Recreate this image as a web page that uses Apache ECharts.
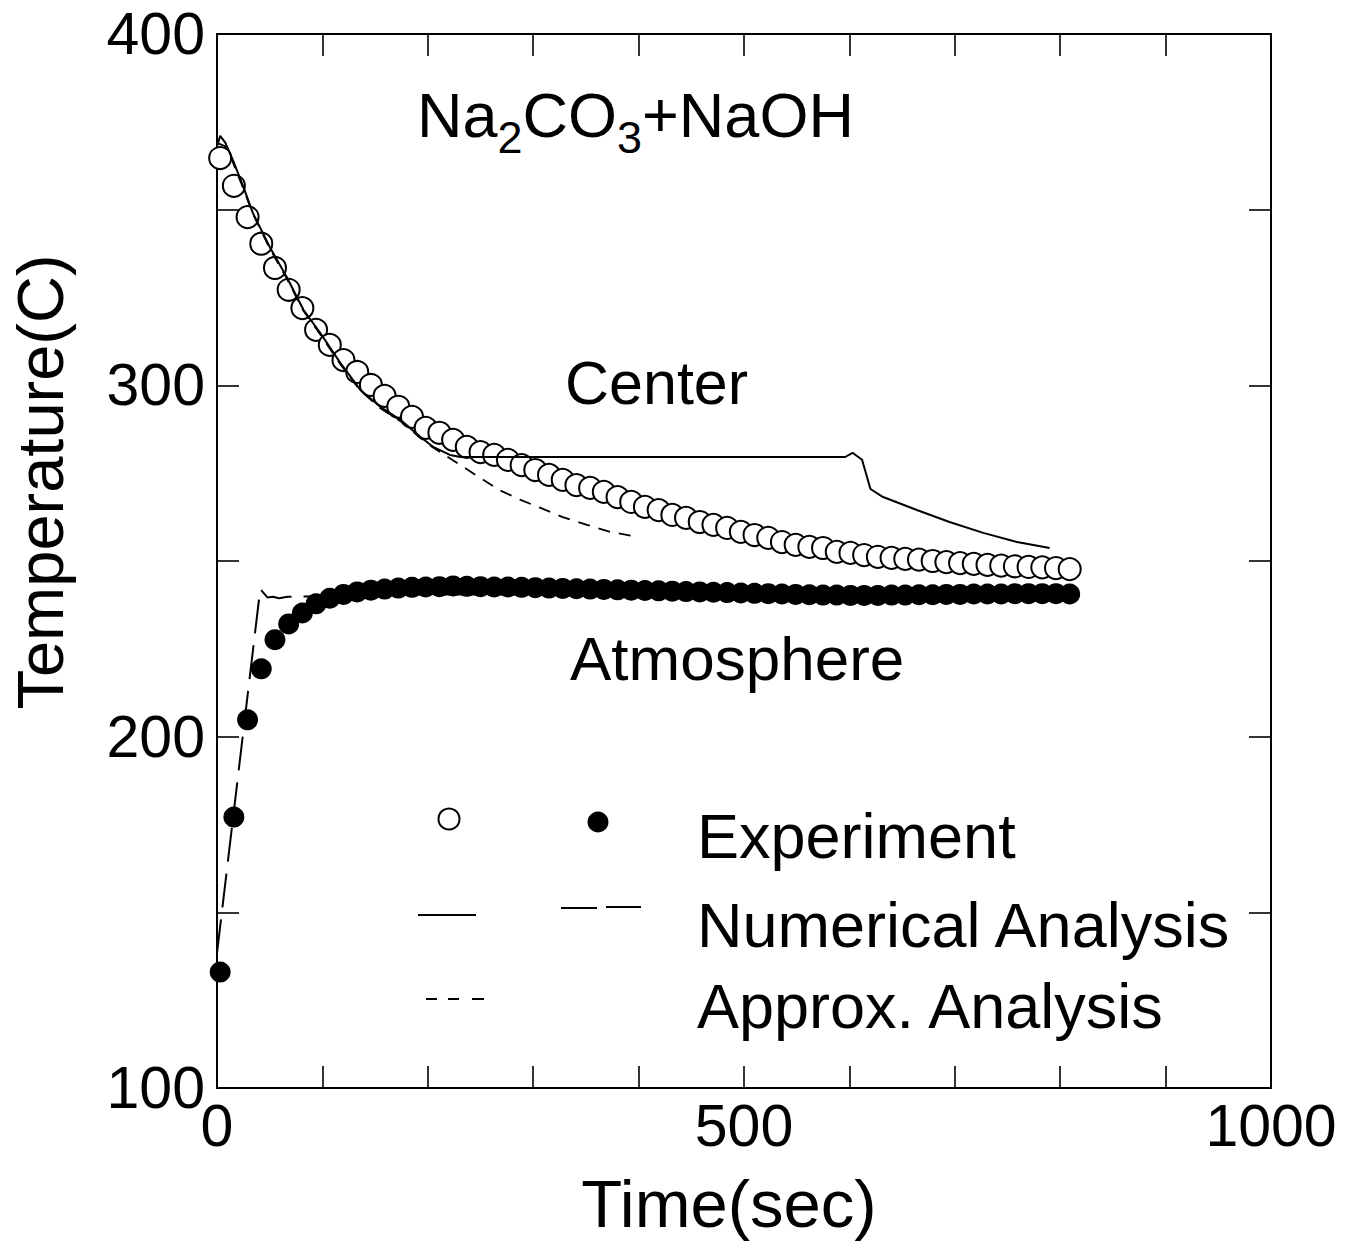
<!DOCTYPE html>
<html>
<head>
<meta charset="utf-8">
<title>Na2CO3+NaOH cooling curves</title>
<script src="https://cdn.jsdelivr.net/npm/echarts@6/dist/echarts.min.js"></script>
<style>
  html, body { margin: 0; padding: 0; background: #fff; }
  #chart { width: 1363px; height: 1244px; }
</style>
</head>
<body>
<div id="chart"></div>
<script>
// Sampling times of the measured points (s)
const expTime = [3, 16, 29, 42, 55, 68, 81, 94, 107, 120, 133, 146, 159, 172, 185, 198, 211, 224, 237, 250,
  263, 276, 289, 302, 315, 328, 341, 354, 367, 380, 393, 406, 419, 432, 445, 458, 471, 484, 497, 510,
  523, 536, 549, 562, 575, 588, 601, 614, 627, 640, 653, 666, 679, 692, 705, 718, 731, 744, 757, 770,
  783, 796, 809];

// Measured centre temperature (C)
const centerExp = [364.7, 356.8, 347.9, 340.3, 333.4, 327.2, 322.0, 315.8, 311.5, 307.2, 303.8, 300.1, 297.0,
  293.9, 291.0, 287.9, 286.5, 284.5, 282.5, 281.0, 280.2, 278.8, 277.3, 275.9, 274.5, 273.1, 271.6, 270.8,
  269.7, 268.2, 266.8, 265.4, 264.5, 263.1, 262.3, 261.1, 260.3, 259.4, 258.3, 257.4, 256.6, 255.4, 254.6,
  254.0, 253.7, 252.6, 252.3, 251.7, 251.2, 250.9, 250.6, 250.4, 250.0, 249.7, 249.4, 249.2, 248.9, 248.7,
  248.5, 248.3, 248.2, 248.0, 247.7];

// Measured atmosphere temperature (C)
const atmosExp = [133.0, 177.1, 204.8, 219.3, 227.6, 232.1, 235.2, 237.8, 239.4, 240.5, 241.2, 241.7, 242.0,
  242.3, 242.5, 242.6, 242.7, 242.9, 242.8, 242.7, 242.6, 242.6, 242.5, 242.4, 242.3, 242.2, 242.1, 242.0,
  241.9, 241.8, 241.7, 241.6, 241.5, 241.4, 241.3, 241.2, 241.1, 241.0, 240.9, 240.8, 240.7, 240.6, 240.5,
  240.4, 240.3, 240.3, 240.2, 240.2, 240.2, 240.3, 240.3, 240.4, 240.4, 240.5, 240.5, 240.6, 240.6, 240.6,
  240.7, 240.7, 240.7, 240.7, 240.6];

// Numerical analysis, centre (solid)
const numCenterTime = [0, 3, 8, 15, 25, 34, 50, 66, 82, 98, 117, 136, 155, 174, 193, 205, 221, 231, 400, 596,
  603, 612, 620, 632, 664, 695, 727, 759, 790];
const numCenterTemp = [368.0, 371.0, 369.0, 364.2, 356.5, 349.1, 339.4, 330.9, 321.5, 314.9, 306.4, 298.7,
  293.9, 290.2, 285.3, 282.5, 280.2, 279.6, 279.6, 279.6, 280.8, 278.8, 270.5, 268.2, 264.5, 261.1, 258.0,
  255.4, 253.7];

// Numerical analysis, atmosphere (long dash)
const numAtmosTime = [0, 41, 48, 53, 59, 67, 200, 400, 600, 790];
const numAtmosTemp = [138.4, 242.0, 239.6, 239.8, 239.4, 239.8, 240.5, 240.5, 240.3, 240.6];

// Approximate analysis, centre (short dash)
const approxCenterTime = [0, 8, 15, 25, 34, 50, 66, 82, 98, 117, 136, 155, 174, 193, 205, 231, 250, 268, 288,
  307, 328, 351, 373, 395];
const approxCenterTemp = [369.0, 368.0, 363.5, 356.0, 348.8, 339.0, 330.5, 321.2, 314.5, 306.0, 298.5, 293.5,
  289.8, 285.0, 282.3, 277.3, 273.6, 270.2, 267.4, 265.1, 262.5, 260.3, 258.3, 257.1];

// Axis labels
const xTickLabels = [0, 500, 1000];
const yTickLabels = [100, 200, 300, 400];

const FONT = "'Liberation Sans', Arial, Helvetica, sans-serif";

const chart = echarts.init(document.getElementById('chart'), null, { renderer: 'svg' });

const pair = (xs, ys) => xs.map((x, i) => [x, ys[i]]);

const axisCommon = {
  type: 'value',
  axisLine: { show: true, onZero: false, lineStyle: { color: '#000', width: 2 } },
  axisTick: { show: true, inside: true, length: 22, lineStyle: { color: '#000', width: 1.6 } },
  splitLine: { show: false }
};

const option = {
  backgroundColor: '#fff',
  animation: false,
  grid: { left: 217, right: 92, top: 34, bottom: 156, containLabel: false },
  xAxis: [
    Object.assign({}, axisCommon, {
      position: 'bottom', min: 0, max: 1000, interval: 100,
      axisLabel: {
        show: true, interval: 0, margin: 8, color: '#000', fontSize: 59, fontFamily: FONT,
        formatter: v => (xTickLabels.indexOf(v) >= 0 ? String(v) : '')
      }
    }),
    Object.assign({}, axisCommon, {
      position: 'top', min: 0, max: 1000, interval: 100, axisLabel: { show: false }
    })
  ],
  yAxis: [
    Object.assign({}, axisCommon, {
      position: 'left', min: 100, max: 400, interval: 50,
      axisLabel: {
        show: true, interval: 0, margin: 12, color: '#000', fontSize: 59, fontFamily: FONT,
        formatter: v => (yTickLabels.indexOf(v) >= 0 ? String(v) : '')
      }
    }),
    Object.assign({}, axisCommon, {
      position: 'right', min: 100, max: 400, interval: 50, axisLabel: { show: false }
    })
  ],
  series: [
    {
      name: 'Center Experiment', type: 'scatter', xAxisIndex: 0, yAxisIndex: 0, z: 2,
      symbol: 'circle', symbolSize: 22,
      itemStyle: { color: '#fff', borderColor: '#000', borderWidth: 2, opacity: 1 },
      data: pair(expTime, centerExp)
    },
    {
      name: 'Atmosphere Experiment', type: 'scatter', xAxisIndex: 0, yAxisIndex: 0, z: 2,
      symbol: 'circle', symbolSize: 21,
      itemStyle: { color: '#000', opacity: 1 },
      data: pair(expTime, atmosExp)
    },
    {
      name: 'Numerical Analysis (Center)', type: 'line', z: 3, showSymbol: false, symbol: 'none',
      lineStyle: { color: '#000', width: 2, type: 'solid', opacity: 1 },
      data: pair(numCenterTime, numCenterTemp)
    },
    {
      name: 'Numerical Analysis (Atmosphere)', type: 'line', z: 3, showSymbol: false, symbol: 'none',
      lineStyle: { color: '#000', width: 2, type: [34, 12], opacity: 1 },
      data: pair(numAtmosTime, numAtmosTemp)
    },
    {
      name: 'Approx. Analysis', type: 'line', z: 3, showSymbol: false, symbol: 'none',
      lineStyle: { color: '#000', width: 1.8, type: [12, 9], opacity: 1 },
      data: pair(approxCenterTime, approxCenterTemp)
    }
  ],
  graphic: [
    // axis titles
    {
      type: 'text', x: 729, y: 1203,
      style: { text: 'Time(sec)', fill: '#000', fontSize: 67, fontFamily: FONT,
        textAlign: 'center', textVerticalAlign: 'middle' }
    },
    {
      type: 'text', x: 40, y: 482, rotation: Math.PI / 2,
      style: { text: 'Temperature(C)', fill: '#000', fontSize: 65, fontFamily: FONT,
        textAlign: 'center', textVerticalAlign: 'middle' }
    },
    // annotations inside the plot
    {
      type: 'text', x: 417, y: 115,
      style: {
        text: '{m|Na}{s|2}{m|CO}{s|3}{m|+NaOH}',
        fill: '#000000', fontFamily: FONT, textAlign: 'left', textVerticalAlign: 'middle',
        rich: {
          m: { fontSize: 63, lineHeight: 90, fontFamily: FONT },
          s: { fontSize: 45, lineHeight: 44, fontFamily: FONT, verticalAlign: 'bottom' }
        }
      }
    },
    {
      type: 'text', x: 565, y: 383,
      style: { text: 'Center', fill: '#000', fontSize: 61, fontFamily: FONT,
        textAlign: 'left', textVerticalAlign: 'middle' }
    },
    {
      type: 'text', x: 570, y: 658,
      style: { text: 'Atmosphere', fill: '#000', fontSize: 62, fontFamily: FONT,
        textAlign: 'left', textVerticalAlign: 'middle' }
    },
    // legend symbols
    { type: 'circle', shape: { cx: 449, cy: 819, r: 10.5 }, style: { fill: '#fff', stroke: '#000', lineWidth: 2 } },
    { type: 'circle', shape: { cx: 598, cy: 822, r: 10.5 }, style: { fill: '#000' } },
    { type: 'line', shape: { x1: 418, y1: 915, x2: 476, y2: 915 }, style: { stroke: '#000', lineWidth: 2 } },
    { type: 'line', shape: { x1: 561, y1: 908, x2: 597, y2: 908 }, style: { stroke: '#000', lineWidth: 2 } },
    { type: 'line', shape: { x1: 606, y1: 907, x2: 641, y2: 907 }, style: { stroke: '#000', lineWidth: 2 } },
    { type: 'line', shape: { x1: 426, y1: 999, x2: 437, y2: 999 }, style: { stroke: '#000', lineWidth: 2 } },
    { type: 'line', shape: { x1: 448, y1: 999, x2: 459, y2: 999 }, style: { stroke: '#000', lineWidth: 2 } },
    { type: 'line', shape: { x1: 472, y1: 999, x2: 484, y2: 999 }, style: { stroke: '#000', lineWidth: 2 } },
    // legend texts
    {
      type: 'text', x: 697, y: 836,
      style: { text: 'Experiment', fill: '#000', fontSize: 63, fontFamily: FONT,
        textAlign: 'left', textVerticalAlign: 'middle' }
    },
    {
      type: 'text', x: 697, y: 925,
      style: { text: 'Numerical Analysis', fill: '#000', fontSize: 63, fontFamily: FONT,
        textAlign: 'left', textVerticalAlign: 'middle' }
    },
    {
      type: 'text', x: 697, y: 1006,
      style: { text: 'Approx. Analysis', fill: '#000', fontSize: 63, fontFamily: FONT,
        textAlign: 'left', textVerticalAlign: 'middle' }
    }
  ]
};

chart.setOption(option);
</script>
</body>
</html>
